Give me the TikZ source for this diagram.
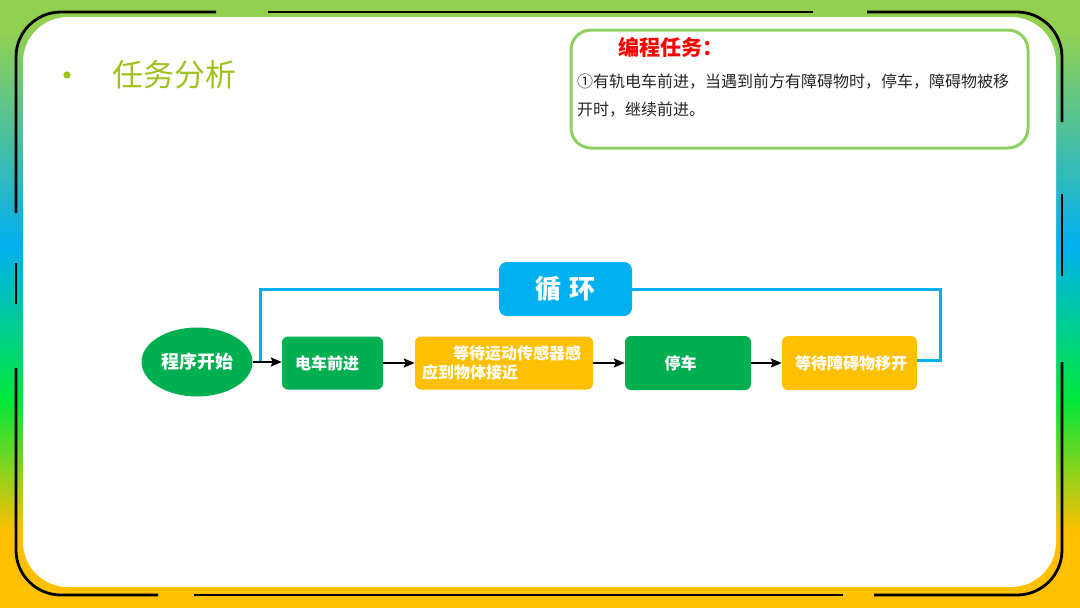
\documentclass[tikz,border=0pt]{standalone}
\usepackage{fontspec}
\setmainfont{Noto Sans CJK SC}
\newfontfamily\cjk{Noto Sans CJK SC}
\usetikzlibrary{arrows.meta,shapes.geometric}
\definecolor{bgA}{HTML}{92D050}
\definecolor{bgB}{HTML}{00B0F0}
\definecolor{bgC}{HTML}{00E83A}
\definecolor{bgD}{HTML}{FFC000}
\definecolor{gbox}{HTML}{00B050}
\definecolor{ybox}{HTML}{FFC000}
\definecolor{lbox}{HTML}{00B0F0}
\definecolor{ttl}{HTML}{9DC31C}
\definecolor{tframe}{HTML}{8ED061}
\definecolor{bodytxt}{HTML}{262626}
\tikzset{
  frameline/.style={line width=2.8pt, black, rounded corners=45pt},
  flowbox/.style={rounded corners=6pt, text=white, font=\cjk\bfseries\fontsize{16pt}{19pt}\selectfont, inner ysep=0pt},
  greenbox/.style={flowbox, fill=gbox},
  yellowbox/.style={flowbox, fill=ybox},
  flowarrow/.style={line width=2pt, black, -{Stealth[length=11pt,width=9pt,inset=2pt]}},
  loopline/.style={line width=3pt, lbox},
}
\begin{document}
\begin{tikzpicture}[x=1pt,y=-1pt]
\useasboundingbox (0,0) rectangle (1080,608);
% background gradient
\fill[bgA] (0,0) rectangle (1080,31);
\shade[top color=bgA, bottom color=bgB] (0,30) rectangle (1080,246);
\shade[top color=bgB, bottom color=bgC] (0,245) rectangle (1080,401);
\shade[top color=bgC, bottom color=bgD] (0,400) rectangle (1080,531);
\fill[bgD] (0,530) rectangle (1080,608);
% white panel
\fill[white, rounded corners=45pt] (23,17) rectangle (1056,587);
% broken black frame
\draw[frameline] (216,12) -- (16,12) -- (16,213);
\draw[frameline] (16,263) -- (16,304);
\draw[frameline] (16,368) -- (16,595) -- (158,595);
\draw[frameline] (194,595) -- (843,595);
\draw[frameline] (874,595) -- (1062,595) -- (1062,362);
\draw[frameline] (1062,276) -- (1062,194);
\draw[frameline] (1062,122) -- (1062,12) -- (867,12);
\draw[frameline] (268,12) -- (813,12);
% title
\fill[ttl] (67,75) circle (3.6pt);
\node[anchor=west, text=ttl, font=\cjk\fontsize{31pt}{34pt}\selectfont, inner sep=0pt] (title) at (112,75) {任务分析};
% task box
\draw[tframe, line width=3pt, rounded corners=20pt] (571,30) rectangle (1028,148);
\node[anchor=west, text=red, font=\cjk\bfseries\fontsize{21pt}{24pt}\selectfont, inner sep=0pt] (tasktitle) at (618,47) {编程任务：};
\node[anchor=north west, text=bodytxt, font=\cjk\fontsize{16pt}{28pt}\selectfont, align=left, inner sep=0pt] (taskbody) at (577,74) {①有轨电车前进，当遇到前方有障碍物时，停车，障碍物被移\\开时，继续前进。};
% flow nodes
\node[ellipse, fill=gbox, text=white, minimum width=111pt, minimum height=69pt, inner sep=0pt, font=\cjk\bfseries\fontsize{18pt}{20pt}\selectfont] (start) at (197,362) {程序开始};
\node[greenbox, minimum width=101pt, minimum height=53pt, text width=75pt, align=left, inner xsep=13pt] (b1) at (332.5,363) {电车前进};
\node[yellowbox, minimum width=178pt, minimum height=53pt, text width=164pt, align=left, inner xsep=7pt] (b2) at (504,363) {\hspace*{31pt}等待运动传感器感\\应到物体接近};
\node[greenbox, minimum width=126pt, minimum height=54pt, text width=85pt, align=left, inner xsep=0pt] (b3) at (688,363) {\hspace*{19pt}停车};
\node[yellowbox, minimum width=135pt, minimum height=54pt, inner xsep=0pt] (b4) at (849.5,363) {\hspace*{3pt}等待障碍物移开};
\node[rounded corners=8pt, fill=lbox, text=white, minimum width=133pt, minimum height=54pt, font=\cjk\bfseries\fontsize{26pt}{28pt}\selectfont] (loop) at (565.5,289) {循\,\,环};
% connectors
\coordinate (rt) at (940,360);
\coordinate (lj) at (260,362);
\draw[loopline] (b4.east |- rt) -- (rt) |- (loop.east);
\draw[loopline] (loop.west) -| (lj);
\draw[flowarrow] (start.east) -- (b1.west |- start.east);
\draw[flowarrow] (b1.east) -- (b2.west);
\draw[flowarrow] (b2.east) -- (b3.west);
\draw[flowarrow] (b3.east) -- (b4.west);
\end{tikzpicture}
\end{document}
